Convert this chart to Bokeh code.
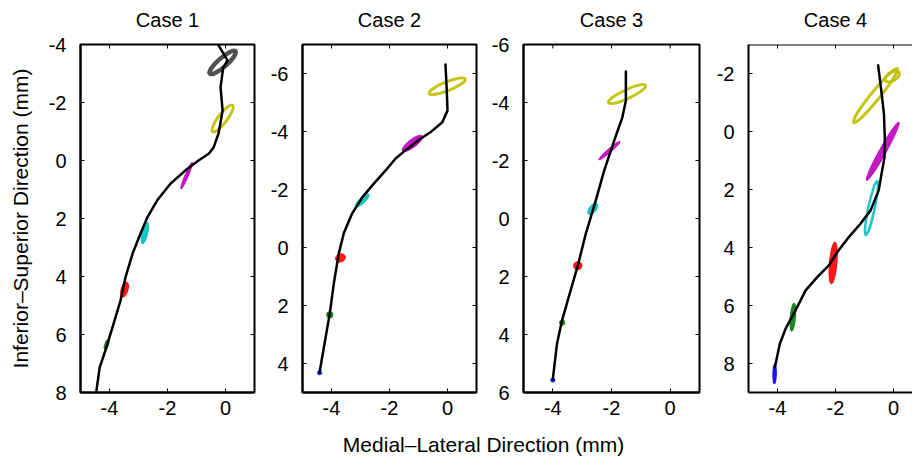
from bokeh.plotting import figure
from bokeh.models import Range1d, LinearAxis, FixedTicker, Label, ColumnDataSource, Span
from bokeh.layouts import row, column
from bokeh.embed import file_html
from bokeh.resources import INLINE

# ---------------- text ----------------
CASE_TITLES = ["Case 1", "Case 2", "Case 3", "Case 4"]
X_LABEL = "Medial\u2013Lateral Direction (mm)"
Y_LABEL = "Inferior\u2013Superior Direction (mm)"

# ---------------- ticks ----------------
X_TICKS = [-4, -2, 0]
Y_TICKS_1 = [-4, -2, 0, 2, 4, 6, 8]
Y_TICKS_2 = [-6, -4, -2, 0, 2, 4]
Y_TICKS_3 = [-6, -4, -2, 0, 2, 4, 6]
Y_TICKS_4 = [-2, 0, 2, 4, 6, 8]

# axis limits (x_min, x_max, y_top, y_bottom)
LIM_1 = (-5, 1, -4, 8)
LIM_2 = (-5, 1, -7, 5)
LIM_3 = (-5, 1, -6, 6)
LIM_4 = (-5, 0.655, -3, 9)

# ---------------- trajectories (mm) ----------------
C1_X = [-0.24, 0.07, -0.08, -0.17, -0.10, -0.24, -0.41, -0.57, -0.93, -1.38, -1.90,
        -2.36, -2.70, -2.93, -3.20, -3.45, -3.62, -3.90, -4.14, -4.34, -4.45]
C1_Y = [-3.97, -3.45, -3.20, -2.52, -1.72, -0.93, -0.45, -0.24, 0.00, 0.34, 0.80,
        1.38, 1.97, 2.52, 3.20, 4.03, 4.83, 5.76, 6.55, 7.14, 7.93]

C2_X = [-0.07, -0.03, 0.00, -0.18, -0.58, -0.93, -1.39, -1.79, -2.08, -2.54, -2.94,
        -3.29, -3.58, -3.75, -3.92, -4.06, -4.24, -4.41]
C2_Y = [-6.31, -5.52, -4.72, -4.32, -3.98, -3.75, -3.40, -3.07, -2.72, -2.20, -1.73,
        -1.17, -0.48, 0.21, 1.24, 2.28, 3.31, 4.30]

C3_X = [-1.51, -1.51, -1.63, -1.91, -2.25, -2.54, -2.88, -3.15, -3.43, -3.69, -3.86, -4.00]
C3_Y = [-5.07, -4.06, -3.49, -2.68, -1.65, -0.61, 0.54, 1.63, 2.61, 3.53, 4.33, 5.54]

C4_X = [-0.53, -0.42, -0.33, -0.30, -0.31, -0.42, -0.51, -0.79, -1.14, -1.54, -1.94,
        -2.23, -2.63, -3.03, -3.38, -3.72, -3.92, -4.09]
C4_Y = [-2.28, -1.41, -0.61, 0.20, 0.89, 1.50, 2.03, 2.72, 3.18, 3.64, 4.16,
        4.62, 5.02, 5.48, 6.17, 6.80, 7.32, 8.13]

# ---------------- motion blobs: centre, major, minor (mm), angle (deg), colour key, kind ----------------
C1_BX = [-0.10, -0.10, -1.34, -2.78, -3.48, -4.10]
C1_BY = [-3.38, -1.45, 0.52, 2.50, 4.45, 6.35]
C1_BW = [1.17, 1.14, 1.00, 0.77, 0.54, 0.36]
C1_BH = [0.31, 0.31, 0.12, 0.20, 0.24, 0.13]
C1_BA = [41, 53, 67, 77, 74, 73]
C1_BC = ["gray", "yellow", "magenta", "cyan", "red", "green"]
C1_BK = ["ring", "ring", "fill", "fill", "fill", "fill"]

C2_BX = [-0.01, -1.21, -2.94, -3.69, -4.06, -4.41]
C2_BY = [-5.56, -3.59, -1.62, 0.36, 2.32, 4.32]
C2_BW = [1.34, 0.86, 0.63, 0.35, 0.22, 0.14]
C2_BH = [0.31, 0.28, 0.20, 0.28, 0.22, 0.14]
C2_BA = [22, 37, 43, 20, 0, 0]
C2_BC = ["yellow", "magenta", "cyan", "red", "green", "blue"]
C2_BK = ["ring", "fill", "fill", "fill", "fill", "fill"]

C3_BX = [-1.47, -2.07, -2.64, -3.15, -3.68, -4.00]
C3_BY = [-4.29, -2.34, -0.33, 1.63, 3.59, 5.57]
C3_BW = [1.39, 0.95, 0.46, 0.28, 0.18, 0.14]
C3_BH = [0.31, 0.13, 0.24, 0.27, 0.18, 0.14]
C3_BA = [25, 41, 52, 0, 0, 0]
C3_BC = ["yellow", "magenta", "cyan", "red", "green", "blue"]
C3_BK = ["ring", "fill", "fill", "fill", "fill", "fill"]

C4_BX = [-0.62, -0.04, -0.37, -0.76, -2.08, -3.47, -4.10]
C4_BY = [-1.24, -1.90, 0.68, 2.64, 4.53, 6.40, 8.36]
C4_BW = [2.40, 0.55, 2.30, 1.90, 1.45, 0.98, 0.70]
C4_BH = [0.30, 0.30, 0.24, 0.22, 0.26, 0.18, 0.12]
C4_BA = [51, 30, 61, 78, 85, 85, 89]
C4_BC = ["yellow", "yellow", "magenta", "cyan", "red", "green", "blue"]
C4_BK = ["ring", "ring", "fill", "ring", "fill", "fill", "fill"]

# ---------------- styles / layout ----------------
PALETTE = {"gray": "#3d3d3d", "yellow": "#bfbf00", "magenta": "#bf00bf",
           "cyan": "#00bfbf", "red": "#ff0000", "green": "#008000", "blue": "#0000ff"}
RING_WIDTH = {"gray": 4.5, "yellow": 3}
FONT = "Liberation Sans"
FRAME_H = 348
TITLE_H = 31          # strip holding the panel titles
TOP, BOTTOM = 13, 40  # borders of each panel figure
LBL_H = 25            # strip holding the shared x label
# (left border, frame width, right border) for each panel
GEOM = [(80, 174, 10), (38, 174, 9), (38, 176, 9), (40, 164, 0)]
TOTAL_W = sum(a + b + c for a, b, c in GEOM)


def make_axis(ticks, standoff):
    ax = LinearAxis(ticker=FixedTicker(ticks=ticks, minor_ticks=[]))
    ax.axis_line_color = "black"
    ax.axis_line_width = 2
    ax.major_tick_in = 4
    ax.major_tick_out = 0
    ax.major_tick_line_color = "black"
    ax.major_tick_line_width = 1
    ax.minor_tick_line_color = None
    ax.major_label_text_font = FONT
    ax.major_label_text_font_size = "20px"
    ax.major_label_text_color = "black"
    ax.major_label_standoff = standoff
    ax.major_label_overrides = {t: str(t) for t in ticks}
    return ax


def panel(xs, ys, bx, by, bw, bh, ba, bc, bk, lim, y_ticks, geom,
          ylabel=None, right_border=True):
    x0, x1, ytop, ybot = lim
    mb_left, frame_w, mb_right = geom
    p = figure(width=mb_left + frame_w + mb_right, height=TOP + FRAME_H + BOTTOM,
               x_range=Range1d(x0, x1), y_range=Range1d(ybot, ytop),
               output_backend="svg", toolbar_location=None,
               x_axis_location=None, y_axis_location=None,
               min_border_left=mb_left, min_border_right=mb_right,
               min_border_top=TOP, min_border_bottom=BOTTOM,
               background_fill_color="white", border_fill_color="white")
    p.grid.visible = False

    if right_border:
        p.outline_line_color = "black"
        p.outline_line_width = 2
    else:
        p.outline_line_color = None
        p.add_layout(Span(location=ytop, dimension="width", line_color="black", line_width=2))

    bottom = make_axis(X_TICKS, 8)
    left = make_axis(y_ticks, 14)
    if ylabel:
        left.axis_label = ylabel
        left.axis_label_text_font = FONT
        left.axis_label_text_font_size = "21px"
        left.axis_label_text_font_style = "normal"
        left.axis_label_text_color = "black"
        left.axis_label_standoff = 14
    p.add_layout(bottom, "below")
    p.add_layout(left, "left")

    # mirrored inward ticks on the top (and right) border
    p.ray(x=X_TICKS, y=[ytop] * len(X_TICKS), length=4, length_units="screen",
          angle=-90, angle_units="deg", line_color="black", line_width=1)
    if right_border:
        p.ray(x=[x1] * len(y_ticks), y=y_ticks, length=4, length_units="screen",
              angle=180, angle_units="deg", line_color="black", line_width=1)

    for kind in ("ring", "fill"):
        idx = [i for i, k in enumerate(bk) if k == kind]
        if not idx:
            continue
        src = ColumnDataSource(dict(
            x=[bx[i] for i in idx], y=[by[i] for i in idx],
            w=[bw[i] for i in idx], h=[bh[i] for i in idx],
            a=[ba[i] for i in idx],
            c=[PALETTE[bc[i]] for i in idx],
            lw=[RING_WIDTH.get(bc[i], 2.5) for i in idx]))
        if kind == "ring":
            p.ellipse(x="x", y="y", width="w", height="h", angle="a", angle_units="deg",
                      source=src, fill_color=None, line_color="c", line_width="lw",
                      line_alpha=0.9)
        else:
            p.ellipse(x="x", y="y", width="w", height="h", angle="a", angle_units="deg",
                      source=src, fill_color="c", fill_alpha=0.9, line_color="c",
                      line_width=1, line_alpha=0.9)

    p.line(xs, ys, line_color="black", line_width=2.5, line_join="round", line_cap="round")
    return p


LIMS = [LIM_1, LIM_2, LIM_3, LIM_4]
f1 = panel(C1_X, C1_Y, C1_BX, C1_BY, C1_BW, C1_BH, C1_BA, C1_BC, C1_BK,
           LIM_1, Y_TICKS_1, GEOM[0], ylabel=Y_LABEL)
f2 = panel(C2_X, C2_Y, C2_BX, C2_BY, C2_BW, C2_BH, C2_BA, C2_BC, C2_BK,
           LIM_2, Y_TICKS_2, GEOM[1])
f3 = panel(C3_X, C3_Y, C3_BX, C3_BY, C3_BW, C3_BH, C3_BA, C3_BC, C3_BK,
           LIM_3, Y_TICKS_3, GEOM[2])
f4 = panel(C4_X, C4_Y, C4_BX, C4_BY, C4_BW, C4_BH, C4_BA, C4_BC, C4_BK,
           LIM_4, Y_TICKS_4, GEOM[3], right_border=False)


def strip(height):
    s = figure(width=TOTAL_W, height=height, x_range=Range1d(0, TOTAL_W),
               y_range=Range1d(0, height), output_backend="svg", toolbar_location=None,
               min_border=0, x_axis_location=None, y_axis_location=None,
               outline_line_color=None, background_fill_color="white",
               border_fill_color="white")
    s.grid.visible = False
    return s


# title strip: each title centred over x = -2 mm of its panel
f0 = strip(TITLE_H)
offset = 0
for title, (mb_left, frame_w, mb_right), (x0, x1, _, _) in zip(CASE_TITLES, GEOM, LIMS):
    cx = offset + mb_left + (-2.0 - x0) / (x1 - x0) * frame_w
    f0.add_layout(Label(x=cx, y=TITLE_H - 19, text=title, text_align="center",
                        text_baseline="middle", text_font=FONT, text_font_size="20px",
                        text_color="black"))
    offset += mb_left + frame_w + mb_right

f5 = strip(LBL_H)
f5.add_layout(Label(x=483, y=13, text=X_LABEL, text_align="center",
                    text_baseline="alphabetic", text_font=FONT, text_font_size="21px",
                    text_color="black"))

layout = column(f0, row(f1, f2, f3, f4), f5)
open("out.html", "w").write(file_html(layout, INLINE))
